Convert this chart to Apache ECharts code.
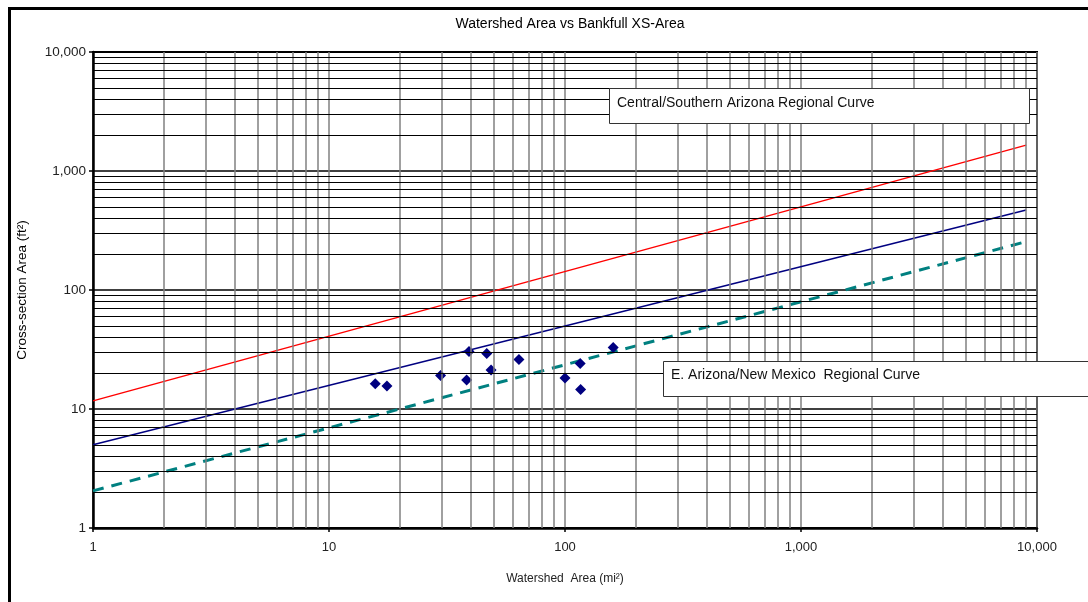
<!DOCTYPE html>
<html>
<head>
<meta charset="utf-8">
<script src="https://cdn.jsdelivr.net/npm/echarts@6/dist/echarts.min.js"></script>
<style>html,body{margin:0;padding:0;background:#fff}#c{width:1088px;height:602px}</style>
</head>
<body>
<div id="c"></div>
<script>
// Observed points (watershed area mi², cross-section area ft²)
var obsArea = [15.7, 17.6, 29.7, 39.2, 38.3, 46.6, 48.6, 63.8, 100, 116, 116.5, 160];
var obsXS   = [16.3, 15.6, 19.1, 30.4, 17.5, 29.2, 21.3, 26.0, 18.2, 24.1, 14.6, 32.8];
// Regional curves (endpoints)
var curveX = [1, 9000];
var centralSouthernAZ = [11.7, 1650];
var blueCurve = [5.0, 470];
var eastAZNewMexico = [2.05, 255];
// Tick labels / grid values
var majorTicks = [1, 10, 100, 1000, 10000];
var minorTicksX = [2,3,4,5,6,7,8,9,20,30,40,50,60,70,80,90,200,300,400,500,600,700,800,900,2000,3000,4000,5000,6000,7000,8000,9000];
var minorTicksY = [2,3,4,5,6,7,8,9,20,30,40,50,60,70,80,90,200,300,400,500,600,700,800,900,2000,3000,4000,5000,6000,7000,8000,9000];
var titleText = 'Watershed Area vs Bankfull XS-Area';
var xName = 'Watershed  Area (mi\u00B2)';
var yName = 'Cross-section Area (ft\u00B2)';
var label1 = 'Central/Southern Arizona Regional Curve';
var label2 = 'E. Arizona/New Mexico  Regional Curve';

function pairs(xs, ys){ return xs.map(function(x,i){ return [x, ys[i]]; }); }
function fmt(v){ return Number(v).toLocaleString('en-US'); }

var chart = echarts.init(document.getElementById('c'), null, {renderer:'canvas'});
var FONT = '"Liberation Sans", Arial, sans-serif';

var gridLines = [];
minorTicksX.forEach(function(v){ gridLines.push({xAxis: v, lineStyle:{color:'#808080', width:1.5, type:'solid'}}); });
minorTicksY.forEach(function(v){ gridLines.push({yAxis: v, lineStyle:{color:'#000', width:1, type:'solid'}}); });

chart.setOption({
  backgroundColor: '#fff',
  animation: false,
  title: {
    text: titleText, left: 565, top: 12, textAlign: 'center',
    textStyle: {fontFamily: FONT, fontSize: 14, fontWeight: 'normal', color: '#000'}
  },
  grid: {left: 93, right: 51, top: 52, bottom: 74, show: true, borderColor: '#000', borderWidth: 2, backgroundColor: '#fff'},
  xAxis: {
    type: 'log', logBase: 10, min: 1, max: 10000,
    name: xName, nameLocation: 'middle', nameGap: 45,
    nameTextStyle: {fontFamily: FONT, fontSize: 12, color: '#222'},
    axisLine: {lineStyle: {color: '#000', width: 2.5}},
    axisTick: {show: true, length: 4, lineStyle: {color: '#000', width: 1.5}},
    axisLabel: {formatter: fmt, fontFamily: FONT, fontSize: 13, color: '#222', margin: 13},
    splitLine: {show: true, lineStyle: {color: '#808080', width: 1.5}},
    minorTick: {show: false}, minorSplitLine: {show: false}
  },
  yAxis: {
    type: 'log', logBase: 10, min: 1, max: 10000,
    name: yName, nameLocation: 'middle', nameGap: 64, nameRotate: 90,
    nameTextStyle: {fontFamily: FONT, fontSize: 13.5, color: '#000'},
    axisLine: {lineStyle: {color: '#000', width: 2.5}},
    axisTick: {show: true, length: 4, lineStyle: {color: '#000', width: 1.5}},
    axisLabel: {formatter: fmt, fontFamily: FONT, fontSize: 13.5, color: '#222', margin: 7},
    splitLine: {show: true, lineStyle: {color: '#000', width: 1.5}},
    minorTick: {show: false}, minorSplitLine: {show: false}
  },
  series: [
    {
      type: 'line', data: [], z: 1, silent: true,
      markLine: {silent: true, symbol: ['none','none'], label: {show: false}, animation: false, data: gridLines}
    },
    {
      name: label1, type: 'line', data: pairs(curveX, centralSouthernAZ), showSymbol: false, z: 3,
      lineStyle: {color: '#ff0000', width: 1.5}
    },
    {
      name: 'blue', type: 'line', data: pairs(curveX, blueCurve), showSymbol: false, z: 3,
      lineStyle: {color: '#000080', width: 1.5}
    },
    {
      name: label2, type: 'line', data: pairs(curveX, eastAZNewMexico), showSymbol: false, z: 3,
      lineStyle: {color: '#008080', width: 3, type: [11, 8]}
    },
    {
      name: 'obs', type: 'scatter', data: pairs(obsArea, obsXS), z: 4,
      symbol: 'diamond', symbolSize: 11, itemStyle: {color: '#000080', opacity: 1}
    }
  ],
  graphic: [
    {type: 'line', shape: {x1: 9.5, y1: 8, x2: 9.5, y2: 602}, style: {stroke: '#000', lineWidth: 3}, z: 100},
    {type: 'line', shape: {x1: 8, y1: 8.5, x2: 1088, y2: 8.5}, style: {stroke: '#000', lineWidth: 3}, z: 100},
    {type: 'rect', shape: {x: 609.5, y: 88.5, width: 420, height: 35}, style: {fill: '#fff', stroke: '#333', lineWidth: 1}, z: 100},
    {type: 'text', x: 617, y: 96, style: {text: label1, fontFamily: FONT, fontSize: 14, fill: '#111'}, z: 101},
    {type: 'rect', shape: {x: 663.5, y: 361.5, width: 440, height: 35}, style: {fill: '#fff', stroke: '#333', lineWidth: 1}, z: 100},
    {type: 'text', x: 671, y: 368, style: {text: label2, fontFamily: FONT, fontSize: 14, fill: '#111'}, z: 101}
  ]
});
</script>
</body>
</html>
